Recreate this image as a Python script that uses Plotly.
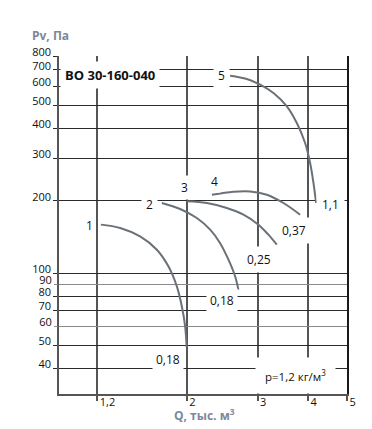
import math
import plotly.graph_objects as go

# ---- data ----
q_ticks = [1.2, 2, 3, 4, 5]
q_ticktext = ["1,2", "2", "3", "4", "5"]
p_ticks_dark = [40, 50, 70, 80, 100, 200, 300, 400, 500, 600, 700, 800]
p_ticks_light = [60, 90]

curve1_q = [1.225, 1.368, 1.533, 1.687, 1.802, 1.891, 1.946, 1.983, 2.0]
curve1_p = [159, 154, 142, 125, 106.6, 88, 72.6, 60, 49]
curve2_q = [1.736, 1.927, 2.12, 2.288, 2.42, 2.54, 2.638, 2.688]
curve2_p = [195.6, 184.7, 169.4, 151.5, 133.4, 113.6, 96.9, 85.3]
curve3_q = [2.0, 2.245, 2.516, 2.767, 3.014, 3.19, 3.348]
curve3_p = [198.7, 195.6, 186.5, 174.9, 158.9, 144.4, 131.2]
curve4_q = [2.31, 2.613, 2.875, 3.162, 3.478, 3.825]
curve4_p = [211.8, 218, 218.6, 211.8, 195.6, 174.8]
curve5_q = [2.564, 2.822, 3.044, 3.284, 3.546, 3.754, 3.936, 4.05, 4.128, 4.19]
curve5_p = [662.6, 642, 608, 561, 494, 421, 347.6, 287, 237, 195.6]

label_text = ["1", "2", "3", "4", "5", "1,1", "0,37", "0,25", "0,18", "0,18"]
label_q = [1.145, 1.622, 1.973, 2.343, 2.434, 4.563, 3.70, 3.029, 2.448, 1.795]
label_p = [157, 191.9, 225.9, 239.9, 660.6, 191.9, 151, 113.3, 77.2, 43.5]
label_pad = [2, 4, 3, 2, 4, 5, 4, 4, 3, 3]

title_text = "ВО 30-160-040"
density_text = "p=1,2 кг/м<sup>3</sup>"

# ---- style ----
CURVE = "#6b7178"
HGRID = "#2b2b2b"
HGRID_LIGHT = "#8a8a8a"
VGRID = "#555555"
AXTITLE = "#7d8899"
FONT = "Open Sans"

x_range = [-0.0157, math.log10(5)]
y_range = [1.4965, math.log10(800)]

fig = go.Figure()
for qs, ps in [(curve1_q, curve1_p), (curve2_q, curve2_p), (curve3_q, curve3_p),
               (curve4_q, curve4_p), (curve5_q, curve5_p)]:
    fig.add_trace(go.Scatter(x=qs, y=ps, mode="lines", line=dict(color=CURVE, width=2, shape="spline"),
                             hoverinfo="skip", showlegend=False))

# helper invisible traces so the overlaying axes are drawn
fig.add_trace(go.Scatter(x=[2], y=[100], yaxis="y2", mode="markers", marker=dict(opacity=0),
                         hoverinfo="skip", showlegend=False))
fig.add_trace(go.Scatter(x=[2], y=[100], yaxis="y3", mode="markers", marker=dict(opacity=0),
                         hoverinfo="skip", showlegend=False))

for t, q, p, pad in zip(label_text, label_q, label_p, label_pad):
    fig.add_annotation(x=math.log10(q), y=math.log10(p), text=t, showarrow=False,
                       bgcolor="white", borderpad=pad,
                       font=dict(family=FONT, size=12, color="#111"))

fig.add_annotation(x=math.log10(0.972), y=math.log10(664), text="<b>" + title_text + "</b>",
                   xanchor="left", yanchor="middle", showarrow=False, bgcolor="white", borderpad=4,
                   font=dict(family=FONT, size=13, color="#111"))
fig.add_annotation(x=math.log10(3.715), y=math.log10(37.3), text=density_text, showarrow=False,
                   bgcolor="white", borderpad=9,
                   font=dict(family=FONT, size=11.5, color="#111"))

fig.add_annotation(xref="paper", yref="paper", x=-0.1007, y=1.0592, xanchor="left", yanchor="middle",
                   text="<b>Pv, Па</b>", showarrow=False,
                   font=dict(family=FONT, size=12, color=AXTITLE))
fig.add_annotation(xref="paper", yref="paper", x=0.392, y=-0.0622, xanchor="left", yanchor="middle",
                   text="<b>Q, тыс. м<sup>3</sup></b>", showarrow=False,
                   font=dict(family=FONT, size=12, color=AXTITLE))

fig.update_layout(
    width=372, height=429,
    margin=dict(l=59, r=25, t=56, b=35),
    paper_bgcolor="white", plot_bgcolor="white",
    font=dict(family=FONT, size=11, color="#111"),
    xaxis=dict(type="log", range=x_range, tickvals=q_ticks, ticktext=q_ticktext,
               showgrid=True, gridcolor=VGRID, gridwidth=1.5,
               ticks="outside", ticklen=5, tickwidth=1.5, tickcolor=VGRID,
               ticklabelposition="outside right", ticklabelshift=1, ticklabelstandoff=-3,
               showline=True, linecolor=VGRID, linewidth=1.5, zeroline=False,
               tickfont=dict(size=11, color="#111")),
    yaxis=dict(type="log", range=y_range, tickvals=p_ticks_dark,
               ticktext=[str(v) for v in p_ticks_dark],
               showgrid=True, gridcolor=HGRID, gridwidth=1.2,
               ticks="outside", ticklen=4, tickwidth=1.2, tickcolor=HGRID,
               ticklabelshift=-4,
               showline=True, linecolor=VGRID, linewidth=1.5, zeroline=False,
               tickfont=dict(size=11, color="#111")),
    yaxis2=dict(type="log", range=y_range, overlaying="y", side="left",
                tickvals=p_ticks_light, ticktext=[str(v) for v in p_ticks_light],
                showgrid=True, gridcolor=HGRID_LIGHT, gridwidth=1.2,
                ticks="outside", ticklen=4, tickwidth=1.2, tickcolor=HGRID_LIGHT,
                ticklabelshift=-4, showline=False, zeroline=False,
                tickfont=dict(size=11, color="#111")),
    yaxis3=dict(type="log", range=y_range, overlaying="y", side="right",
                showgrid=False, showticklabels=False, ticks="",
                showline=True, linecolor="#1a1a1a", linewidth=2, zeroline=False),
)

fig.write_html("out.html")
